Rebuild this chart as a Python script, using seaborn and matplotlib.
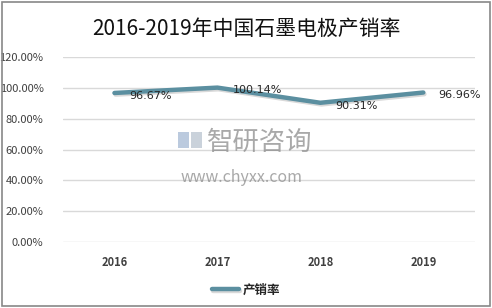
import matplotlib
matplotlib.use("Agg")
import matplotlib.pyplot as plt
import matplotlib.patheffects as pe
from matplotlib.patches import Rectangle
import seaborn as sns
import pandas as pd

years = ["2016", "2017", "2018", "2019"]
rates = [96.67, 100.14, 90.31, 96.96]
series_name = "产销率"
title = "2016-2019年中国石墨电极产销率"

sns.set_style("white")
plt.rcParams['font.family'] = ['Noto Sans CJK SC', 'DejaVu Sans']

df = pd.DataFrame({"year": years, "rate": rates, "series": series_name})

fig = plt.figure(figsize=(4.92, 3.08), dpi=100)
ax = fig.add_axes([0.128, 0.214, 0.837, 0.601])
color = "#5B8FA0"
sns.lineplot(data=df, x="year", y="rate", hue="series", palette=[color],
             linewidth=3.2, ax=ax, sort=False, legend=True,
             path_effects=[pe.SimpleLineShadow(offset=(0.8, -1.2), alpha=0.15), pe.Normal()])

ax.set_ylim(0, 120)
ax.set_xlim(-0.5, 3.5)
ax.set_yticks(range(0, 121, 20))
ax.set_yticklabels([f"{v:.2f}%" for v in range(0, 121, 20)], fontsize=8, color="#404040")
ax.set_xticks(range(len(years)))
ax.set_xticklabels(years, fontsize=8, color="#404040", fontweight="bold")
ax.tick_params(axis="both", length=0)
ax.tick_params(axis="x", pad=10)
ax.tick_params(axis="y", pad=14)
ax.grid(axis="y", color="#D9D9D9", linewidth=1)
ax.set_axisbelow(True)
for s in ax.spines.values():
    s.set_visible(False)
ax.set_xlabel("")
ax.set_ylabel("")

for i, v in enumerate(rates):
    ax.annotate(f"{v:.2f}%", (i, v), xytext=(11, -2), textcoords="offset points",
                ha="left", va="center", fontsize=8, color="#262626", family=['DejaVu Sans'])

ax.legend_.remove()
handles, labels = ax.get_legend_handles_labels()
leg = fig.legend(handles, labels, loc="center", bbox_to_anchor=(0.5, 0.058), frameon=False,
                 handlelength=2.2, handletextpad=0.3, prop={"size": 9, "weight": "bold"})
for t in leg.get_texts():
    t.set_color("#262626")

fig.text(0.5, 0.905, title, ha="center", va="center", fontsize=15, color="#111111",
         fontweight="normal")

# watermark
fig.patches.append(Rectangle((178 / 492, 1 - 148 / 308), 11 / 492, 16 / 308,
                             transform=fig.transFigure, facecolor="#8FA8C8", alpha=0.6,
                             edgecolor="none"))
fig.patches.append(Rectangle((191 / 492, 1 - 148 / 308), 11 / 492, 16 / 308,
                             transform=fig.transFigure, facecolor="#A8B4C4", alpha=0.6,
                             edgecolor="none"))
fig.text(260 / 492, 1 - 142 / 308, "智研咨询", ha="center", va="center", fontsize=19,
         color="#8C8C8C", alpha=0.75)
fig.text(242 / 492, 1 - 178 / 308, "www.chyxx.com", ha="center", va="center", fontsize=11.5,
         color="#8C8C8C", alpha=0.75)

fig.patches.append(Rectangle((0.004, 0.006), 0.992, 0.988, transform=fig.transFigure,
                             fill=False, edgecolor="#888888", linewidth=1.2))

fig.savefig("out.png", dpi=100)
